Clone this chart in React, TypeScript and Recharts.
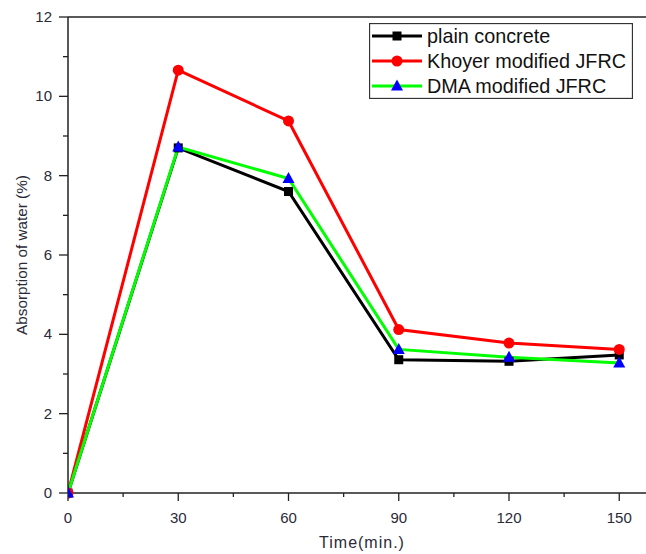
import { Legend, Line, LineChart, ReferenceLine, XAxis, YAxis } from "recharts";

const times = [0, 30, 60, 90, 120, 150];
const plainConcrete = [0, 8.7, 7.6, 3.36, 3.32, 3.48];
const khoyerJfrc = [0, 10.66, 9.38, 4.12, 3.78, 3.62];
const dmaJfrc = [0, 8.72, 7.93, 3.62, 3.42, 3.28];

const xTicks = [0, 15, 30, 45, 60, 75, 90, 105, 120, 135, 150];
const yTicks = [0, 1, 2, 3, 4, 5, 6, 7, 8, 9, 10, 11, 12];

const seriesNames = ["plain concrete", "Khoyer modified JFRC", "DMA modified JFRC"];

const data = times.map((t, i) => ({
  time: t,
  plain: plainConcrete[i],
  khoyer: khoyerJfrc[i],
  dma: dmaJfrc[i],
}));

const FONT = '"Liberation Sans", Arial, sans-serif';
const AXIS = "#222";
const TEXT = "#2a2a38";

function Square({ cx, cy }: { cx: number; cy: number }) {
  return <rect x={cx - 4.5} y={cy - 4.5} width={9} height={9} fill="#000" />;
}

function Dot({ cx, cy }: { cx: number; cy: number }) {
  return <circle cx={cx} cy={cy} r={5.5} fill="#ff0000" />;
}

function Triangle({ cx, cy }: { cx: number; cy: number }) {
  return <polygon points={`${cx},${cy - 6.5} ${cx + 6},${cy + 4.5} ${cx - 6},${cy + 4.5}`} fill="#0000ff" />;
}

const markers = [Square, Dot, Triangle];
const colors = ["#000000", "#ff0000", "#00ff00"];

function YTick({ x, y, payload }: any) {
  const major = payload.value % 2 === 0;
  return (
    <g>
      <line x1={x - (major ? 9 : 5)} x2={x} y1={y} y2={y} stroke={AXIS} strokeWidth={1.3} />
      {major ? (
        <text x={x - 16} y={y + 5} textAnchor="end" fontSize={15} fill={TEXT} fontFamily={FONT}>
          {payload.value}
        </text>
      ) : null}
    </g>
  );
}

function XTick({ x, y, payload }: any) {
  const major = payload.value % 30 === 0;
  return (
    <g>
      <line x1={x} x2={x} y1={y} y2={y + (major ? 8 : 4)} stroke={AXIS} strokeWidth={1.3} />
      {major ? (
        <text x={x} y={y + 30} textAnchor="middle" fontSize={15} fill={TEXT} fontFamily={FONT}>
          {payload.value}
        </text>
      ) : null}
    </g>
  );
}

function LegendBox() {
  return (
    <svg width={264} height={76} style={{ display: "block" }}>
      <rect x={0.5} y={0.5} width={263} height={75} fill="#fff" stroke="#333" strokeWidth={1.3} />
      {seriesNames.map((name, i) => {
        const Marker = markers[i];
        const cy = 13 + i * 25;
        return (
          <g key={name}>
            <line x1={3} x2={53} y1={cy} y2={cy} stroke={colors[i]} strokeWidth={3} />
            <Marker cx={28} cy={cy} />
            <text x={58} y={cy + 7} fontSize={19.8} fill="#111" fontFamily={FONT}>
              {name}
            </text>
          </g>
        );
      })}
    </svg>
  );
}

export default function App() {
  return (
    <div
      style={{
        position: "fixed",
        left: 0,
        top: 0,
        width: 646,
        height: 554,
        overflow: "hidden",
        background: "#fff",
      }}
    >
      <LineChart
        width={660}
        height={554}
        data={data}
        margin={{ top: 17, right: 4, left: 0, bottom: 0 }}
      >
        <XAxis
          dataKey="time"
          type="number"
          domain={[0, 160]}
          ticks={xTicks}
          allowDataOverflow
          height={61}
          tickSize={0}
          tickMargin={0}
          tickLine={false}
          tick={<XTick />}
          stroke={AXIS}
          strokeWidth={1.5}
          label={{
            value: "Time(min.)",
            position: "insideBottom",
            offset: 6,
            style: { fontSize: 16, fill: TEXT, fontFamily: FONT, letterSpacing: 1 },
          }}
        />
        <YAxis
          type="number"
          domain={[0, 12]}
          ticks={yTicks}
          width={68}
          tickSize={0}
          tickMargin={0}
          tickLine={false}
          tick={<YTick />}
          stroke={AXIS}
          strokeWidth={1.5}
          label={{
            value: "Absorption of water (%)",
            angle: -90,
            position: "insideLeft",
            offset: 22,
            style: { fontSize: 15.3, fill: TEXT, fontFamily: FONT, textAnchor: "middle" },
          }}
        />
        <ReferenceLine y={12} stroke={AXIS} strokeWidth={1.5} />
        <Legend
          layout="vertical"
          align="center"
          verticalAlign="middle"
          content={() => <LegendBox />}
          wrapperStyle={{ left: 369, top: 23, width: 264, height: 76 }}
        />
        <Line
          dataKey="plain"
          stroke="#000000"
          strokeWidth={3}
          isAnimationActive={false}
          dot={(p: any) => <Square key={`s${p.index}`} cx={p.cx} cy={p.cy} />}
        />
        <Line
          dataKey="khoyer"
          stroke="#ff0000"
          strokeWidth={3}
          isAnimationActive={false}
          dot={(p: any) => <Dot key={`c${p.index}`} cx={p.cx} cy={p.cy} />}
        />
        <Line
          dataKey="dma"
          stroke="#00ff00"
          strokeWidth={3}
          isAnimationActive={false}
          dot={(p: any) => <Triangle key={`t${p.index}`} cx={p.cx} cy={p.cy} />}
        />
      </LineChart>
    </div>
  );
}
